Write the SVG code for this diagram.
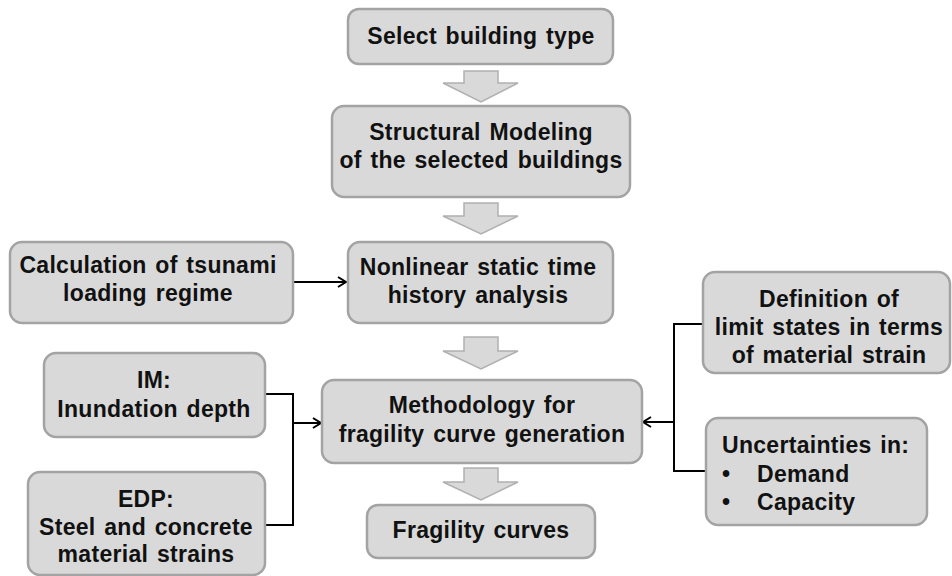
<svg xmlns="http://www.w3.org/2000/svg" width="952" height="576" viewBox="0 0 952 576">
<style>
.box{fill:#d9d9d9;stroke:#a3a3a3;stroke-width:2.5}
.t{font-family:"Liberation Sans",Arial,sans-serif;font-weight:bold;font-size:23px;fill:#111;letter-spacing:0.3px;word-spacing:2px}
.c{text-anchor:middle}
.blk{fill:#d9d9d9;stroke:#b0b0b0;stroke-width:1.5}
.ln{fill:none;stroke:#000;stroke-width:2}
</style>
<defs>
<marker id="ah" markerWidth="12" markerHeight="12" refX="10" refY="6" orient="auto" markerUnits="userSpaceOnUse">
<path d="M2,1 L10,6 L2,11" fill="none" stroke="#000" stroke-width="2"/>
</marker>
</defs>
<rect width="952" height="576" fill="#fff"/>
<g id="connectors">
<path class="blk" d="M464,71 H498 V83 H518 L481,102 L443,83 H464 Z"/>
<path class="blk" d="M464,203 H498 V216 H518 L481,234 L443,216 H464 Z"/>
<path class="blk" d="M464,337 H498 V351 H518 L481,369 L443,351 H464 Z"/>
<path class="blk" d="M464,468 H498 V482 H518 L481,500 L443,482 H464 Z"/>
<path class="ln" d="M293,282 H346" marker-end="url(#ah)"/>
<path class="ln" d="M265,394 H293 V525 H265"/>
<path class="ln" d="M293,423 H321" marker-end="url(#ah)"/>
<path class="ln" d="M703,324 H674 V471 H706"/>
<path class="ln" d="M674,422 H643" stroke-width="2.5" marker-end="url(#ah)"/>
</g>
<g id="n1">
<rect class="box" x="348" y="9" width="265" height="55" rx="11"/>
<text class="t c" x="481" y="44">Select building type</text>
</g>
<g id="n2">
<rect class="box" x="332" y="106" width="298" height="91" rx="12"/>
<text class="t c" x="481" y="140">Structural Modeling</text>
<text class="t c" x="481" y="168">of the selected buildings</text>
</g>
<g id="n3">
<rect class="box" x="348" y="242" width="265" height="81" rx="12"/>
<text class="t c" x="478" y="275">Nonlinear static time</text>
<text class="t c" x="478" y="303">history analysis</text>
</g>
<g id="n4">
<rect class="box" x="10" y="242" width="283" height="81" rx="12"/>
<text class="t c" x="148" y="273">Calculation of tsunami</text>
<text class="t c" x="148" y="301">loading regime</text>
</g>
<g id="n5">
<rect class="box" x="44" y="353" width="221" height="84" rx="12"/>
<text class="t c" x="154" y="388">IM:</text>
<text class="t c" x="154" y="417">Inundation depth</text>
</g>
<g id="n6">
<rect class="box" x="28" y="472" width="237" height="103" rx="12"/>
<text class="t c" x="146" y="507">EDP:</text>
<text class="t c" x="146" y="535">Steel and concrete</text>
<text class="t c" x="146" y="562">material strains</text>
</g>
<g id="n7">
<rect class="box" x="322" y="380" width="320" height="83" rx="12"/>
<text class="t c" x="482" y="413">Methodology for</text>
<text class="t c" x="482" y="442">fragility curve generation</text>
</g>
<g id="n8">
<rect class="box" x="367" y="505" width="228" height="53" rx="11"/>
<text class="t c" x="481" y="538">Fragility curves</text>
</g>
<g id="n9">
<rect class="box" x="703" y="272" width="247" height="101" rx="12"/>
<text class="t c" x="829" y="307">Definition of</text>
<text class="t c" x="829" y="335">limit states in terms</text>
<text class="t c" x="829" y="363">of material strain</text>
</g>
<g id="n10">
<rect class="box" x="706" y="418" width="221" height="107" rx="12"/>
<text class="t" x="722" y="453">Uncertainties in:</text>
<text class="t" x="722" y="482">•</text>
<text class="t" x="757" y="482">Demand</text>
<text class="t" x="722" y="510">•</text>
<text class="t" x="757" y="510">Capacity</text>
</g>
</svg>
